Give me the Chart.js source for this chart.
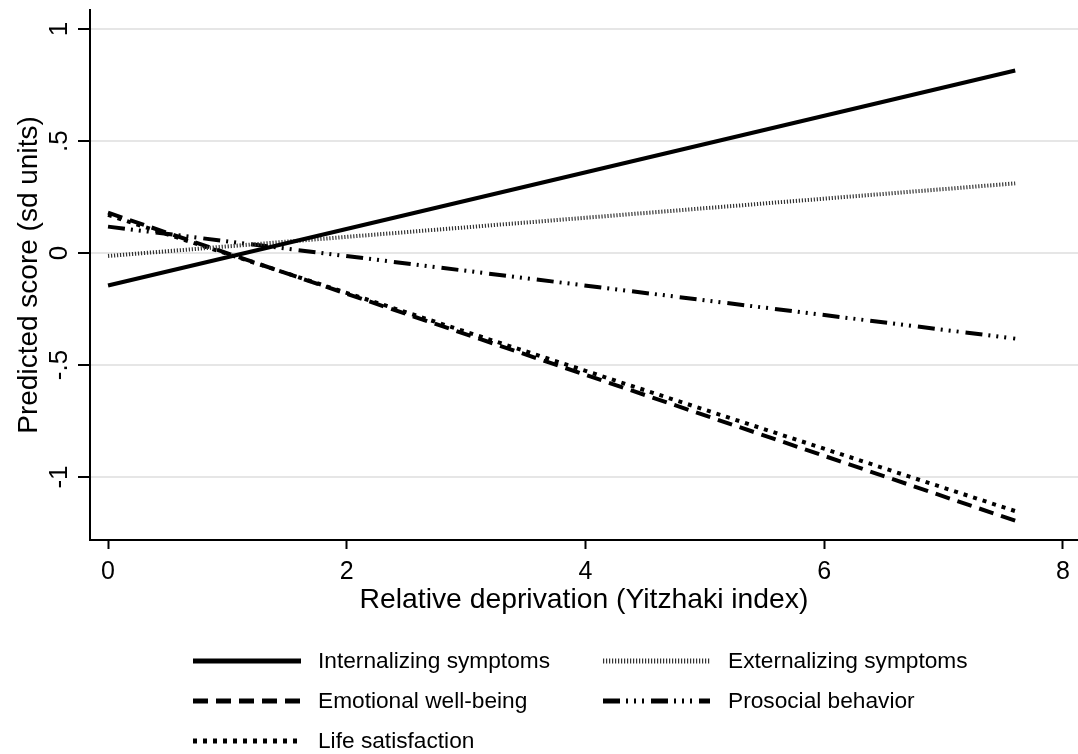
<!DOCTYPE html>
<html>
<head>
<meta charset="utf-8">
<script src="https://cdn.jsdelivr.net/npm/chart.js@4.4.1/dist/chart.umd.min.js"></script>
<style>
  html, body { margin: 0; padding: 0; background: #fff; }
  #wrap { width: 1078px; height: 754px; position: relative; }
</style>
</head>
<body>
<div id="wrap"><canvas id="c" width="1078" height="754"></canvas></div>
<script>
// ---- data ----
const xValues = [0, 7.6];
const internalizing = [-0.145, 0.815];
const externalizing = [-0.013, 0.311];
const emotional = [0.180, -1.195];
const prosocial = [0.118, -0.382];
const lifeSatisfaction = [0.170, -1.152];
const seriesNames = ["Internalizing symptoms", "Externalizing symptoms", "Emotional well-being", "Prosocial behavior", "Life satisfaction"];
const xTickValues = [0, 2, 4, 6, 8];
const yTickValues = [-1, -0.5, 0, 0.5, 1];
const yTickLabels = ["-1", "-.5", "0", ".5", "1"];
const xTitle = "Relative deprivation (Yitzhaki index)";
const yTitle = "Predicted score (sd units)";

const FONT = "'Liberation Sans', Arial, Helvetica, sans-serif";

function pts(ys) { return xValues.map((x, i) => ({ x: x, y: ys[i] })); }

const styles = [
  { borderDash: [], borderWidth: 4, borderColor: '#000' },
  { borderDash: [1.2, 1.8], borderWidth: 4, borderColor: '#333' },
  { borderDash: [15, 8], borderWidth: 4, borderColor: '#000' },
  { borderDash: [17, 6, 2, 6, 2, 6, 2, 7], borderWidth: 4, borderColor: '#000' },
  { borderDash: [4, 6], borderWidth: 4, borderColor: '#000' }
];
const allSeries = [internalizing, externalizing, emotional, prosocial, lifeSatisfaction];

const datasets = allSeries.map((s, i) => Object.assign({
  label: seriesNames[i],
  data: pts(s),
  fill: false,
  pointRadius: 0,
  tension: 0,
  borderCapStyle: 'butt'
}, styles[i]));

const customPlugin = {
  id: 'custom',
  afterDraw(chart) {
    const ctx = chart.ctx;
    const ys = chart.scales.y;
    // y tick labels, rotated
    ctx.save();
    ctx.fillStyle = '#000';
    ctx.font = '26px ' + FONT;
    ctx.textAlign = 'center';
    ctx.textBaseline = 'alphabetic';
    yTickValues.forEach((v, i) => {
      const py = ys.getPixelForValue(v);
      ctx.save();
      ctx.translate(67, py);
      ctx.rotate(-Math.PI / 2);
      ctx.fillText(yTickLabels[i], 0, 0);
      ctx.restore();
    });
    ctx.restore();

    // legend
    const cols = [{ x0: 193, x1: 301, tx: 318 }, { x0: 603, x1: 710, tx: 728 }];
    const rows = [661, 701, 741];
    ctx.save();
    ctx.font = '22.7px ' + FONT;
    ctx.textBaseline = 'middle';
    ctx.textAlign = 'left';
    chart.data.datasets.forEach((ds, i) => {
      const c = cols[i % 2];
      const r = rows[Math.floor(i / 2)];
      ctx.save();
      ctx.strokeStyle = ds.borderColor;
      ctx.lineWidth = 5;
      ctx.lineCap = 'butt';
      ctx.setLineDash(ds.borderDash || []);
      ctx.beginPath();
      ctx.moveTo(c.x0, r);
      ctx.lineTo(c.x1, r);
      ctx.stroke();
      ctx.restore();
      ctx.fillStyle = '#000';
      ctx.fillText(ds.label, c.tx, r + 1);
    });
    ctx.restore();
  }
};

new Chart(document.getElementById('c'), {
  type: 'line',
  data: { datasets: datasets },
  plugins: [customPlugin],
  options: {
    responsive: false,
    animation: false,
    devicePixelRatio: 1,
    layout: { padding: { top: 10, left: 0, right: 0, bottom: 0 } },
    plugins: { legend: { display: false }, tooltip: { enabled: false } },
    scales: {
      x: {
        type: 'linear',
        min: -0.151,
        max: 8.126,
        afterBuildTicks: (axis) => { axis.ticks = xTickValues.map(v => ({ value: v })); },
        afterFit: (axis) => { axis.height = 214; },
        border: { display: true, color: '#000', width: 2 },
        grid: { drawOnChartArea: false, drawTicks: true, tickLength: 9, tickColor: '#000', tickWidth: 2 },
        ticks: {
          color: '#000',
          font: { family: FONT, size: 25 },
          padding: 8,
          maxRotation: 0,
          callback: (v) => String(v)
        },
        title: {
          display: true,
          text: xTitle,
          color: '#000',
          font: { family: FONT, size: 28.3 },
          padding: { top: 0, bottom: 137 }
        }
      },
      y: {
        type: 'linear',
        min: -1.281,
        max: 1.085,
        afterBuildTicks: (axis) => { axis.ticks = yTickValues.map(v => ({ value: v })); },
        afterFit: (axis) => { axis.width = 90; },
        border: { display: true, color: '#000', width: 2 },
        grid: { drawOnChartArea: true, color: '#e6e6e6', lineWidth: 2, drawTicks: true, tickLength: 12, tickColor: '#000', tickWidth: 2 },
        ticks: { display: false },
        title: {
          display: true,
          text: yTitle,
          color: '#000',
          font: { family: FONT, size: 28 },
          padding: { top: 12, bottom: 0 }
        }
      }
    }
  }
});
</script>
</body>
</html>
